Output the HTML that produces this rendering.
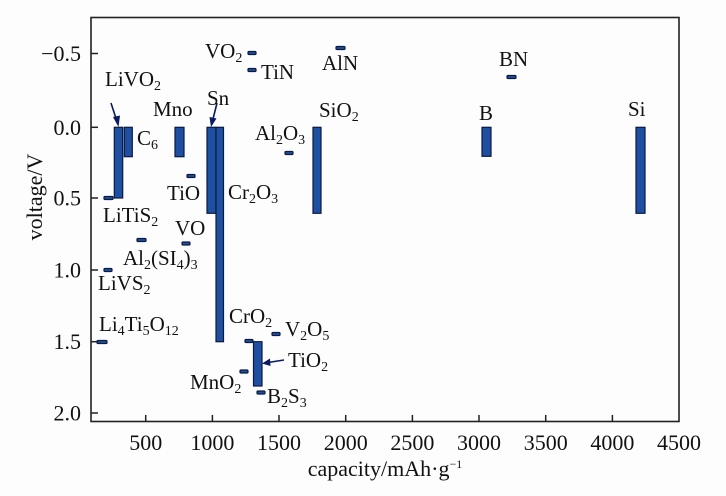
<!DOCTYPE html>
<html><head><meta charset="utf-8"><style>
html,body{margin:0;padding:0;background:#fdfdfd;}
svg{display:block;}
text{font-family:"Liberation Serif","Times New Roman",serif;fill:#111;}
.t{font-size:22px;}
.l{font-size:21px;}
.b{fill:#1f4fa0;stroke:#0a1a40;stroke-width:1.2;}
</style></head><body>
<svg width="726" height="496" viewBox="0 0 726 496" xmlns="http://www.w3.org/2000/svg" font-family="Liberation Serif, serif">
<rect width="726" height="496" fill="#fdfdfd"/>
<rect x="91" y="17.5" width="588" height="404" fill="none" stroke="#222" stroke-width="1.6"/>
<g stroke="#222" stroke-width="1.5">
<line x1="145.7" y1="421" x2="145.7" y2="415"/>
<line x1="212.4" y1="421" x2="212.4" y2="415"/>
<line x1="279" y1="421" x2="279" y2="415"/>
<line x1="345.7" y1="421" x2="345.7" y2="415"/>
<line x1="412.4" y1="421" x2="412.4" y2="415"/>
<line x1="479" y1="421" x2="479" y2="415"/>
<line x1="545.7" y1="421" x2="545.7" y2="415"/>
<line x1="612.4" y1="421" x2="612.4" y2="415"/>
<line x1="91" y1="53.5" x2="98" y2="53.5"/>
<line x1="91" y1="127.3" x2="98" y2="127.3"/>
<line x1="91" y1="198" x2="98" y2="198"/>
<line x1="91" y1="270" x2="98" y2="270"/>
<line x1="91" y1="341.7" x2="98" y2="341.7"/>
<line x1="91" y1="413" x2="98" y2="413"/>
</g>
<g class="t" text-anchor="middle">
<text x="145.7" y="450">500</text>
<text x="212.4" y="450">1000</text>
<text x="279" y="450">1500</text>
<text x="345.7" y="450">2000</text>
<text x="412.4" y="450">2500</text>
<text x="479" y="450">3000</text>
<text x="545.7" y="450">3500</text>
<text x="612.4" y="450">4000</text>
<text x="679" y="450">4500</text>
</g>
<g class="t" text-anchor="end">
<text x="81" y="61">−0.5</text>
<text x="81" y="135">0.0</text>
<text x="81" y="205.5">0.5</text>
<text x="81" y="277.5">1.0</text>
<text x="81" y="349">1.5</text>
<text x="81" y="420.5">2.0</text>
</g>
<text class="t" x="385" y="476" text-anchor="middle">capacity/mAh·g<tspan dy="-8" font-size="12">−1</tspan></text>
<text class="t" transform="translate(42,197) rotate(-90)" text-anchor="middle">voltage/V</text>

<g class="b">
<rect x="114.3" y="127.3" width="8.4" height="70.7"/>
<rect x="124.3" y="127.3" width="8" height="29.4"/>
<rect x="175" y="127.3" width="9" height="29.4"/>
<rect x="207" y="127.3" width="9" height="86"/>
<rect x="216" y="127.3" width="7.5" height="214.4"/>
<rect x="313" y="127.3" width="8" height="86"/>
<rect x="482" y="127.3" width="9" height="29"/>
<rect x="636" y="127.3" width="9" height="86"/>
<rect x="253.5" y="341.7" width="8.5" height="44.3"/>
<rect x="104" y="196.5" width="9" height="3" rx="1"/>
<rect x="187" y="174.5" width="8" height="3" rx="1"/>
<rect x="248" y="51.5" width="8" height="3" rx="1"/>
<rect x="248" y="68.5" width="8" height="3" rx="1"/>
<rect x="336" y="46.5" width="9" height="3" rx="1"/>
<rect x="285" y="151.5" width="8" height="3" rx="1"/>
<rect x="137" y="238.5" width="9" height="3" rx="1"/>
<rect x="182" y="242" width="8" height="3" rx="1"/>
<rect x="104" y="268.5" width="8" height="3" rx="1"/>
<rect x="97" y="340.5" width="10" height="3" rx="1"/>
<rect x="245" y="339.5" width="8" height="3" rx="1"/>
<rect x="272" y="332.5" width="8" height="3" rx="1"/>
<rect x="240" y="370" width="8" height="3" rx="1"/>
<rect x="257" y="391" width="8" height="3" rx="1"/>
<rect x="507" y="75.5" width="9" height="3" rx="1"/>
</g>
<g stroke="#0a1a60" stroke-width="1.6" fill="#0a1a60">
<line x1="111" y1="103" x2="116.5" y2="120"/>
<polygon points="118.5,127 113,117 120,115.5" stroke="none"/>
<line x1="217" y1="103" x2="213" y2="119"/>
<polygon points="211,127 209.5,117 216.5,118.5" stroke="none"/>
<line x1="284" y1="360" x2="268" y2="362.5"/>
<polygon points="262,363.5 270,358.5 270.5,366" stroke="none"/>
</g>
<g class="l">
<text x="205" y="58">VO<tspan font-size="14" dy="4">2</tspan></text>
<text x="261" y="79">TiN</text>
<text x="322" y="70">AlN</text>
<text x="105" y="86">LiVO<tspan font-size="14" dy="4">2</tspan></text>
<text x="153" y="116">Mno</text>
<text x="207" y="105">Sn</text>
<text x="137" y="145">C<tspan font-size="14" dy="4">6</tspan></text>
<text x="255" y="140">Al<tspan font-size="14" dy="4">2</tspan><tspan dy="-4">O</tspan><tspan font-size="14" dy="4">3</tspan></text>
<text x="319" y="117">SiO<tspan font-size="14" dy="4">2</tspan></text>
<text x="499" y="66">BN</text>
<text x="479" y="120">B</text>
<text x="628" y="116">Si</text>
<text x="167" y="200">TiO</text>
<text x="228" y="199">Cr<tspan font-size="14" dy="4">2</tspan><tspan dy="-4">O</tspan><tspan font-size="14" dy="4">3</tspan></text>
<text x="103" y="222">LiTiS<tspan font-size="14" dy="4">2</tspan></text>
<text x="175" y="235">VO</text>
<text x="123" y="265">Al<tspan font-size="14" dy="4">2</tspan><tspan dy="-4">(SI</tspan><tspan font-size="14" dy="4">4</tspan><tspan dy="-4">)</tspan><tspan font-size="14" dy="4">3</tspan></text>
<text x="98" y="290">LiVS<tspan font-size="14" dy="4">2</tspan></text>
<text x="99" y="331">Li<tspan font-size="14" dy="4">4</tspan><tspan dy="-4">Ti</tspan><tspan font-size="14" dy="4">5</tspan><tspan dy="-4">O</tspan><tspan font-size="14" dy="4">12</tspan></text>
<text x="229" y="323">CrO<tspan font-size="14" dy="4">2</tspan></text>
<text x="285" y="336">V<tspan font-size="14" dy="4">2</tspan><tspan dy="-4">O</tspan><tspan font-size="14" dy="4">5</tspan></text>
<text x="288" y="367">TiO<tspan font-size="14" dy="4">2</tspan></text>
<text x="190" y="389">MnO<tspan font-size="14" dy="4">2</tspan></text>
<text x="267" y="403">B<tspan font-size="14" dy="4">2</tspan><tspan dy="-4">S</tspan><tspan font-size="14" dy="4">3</tspan></text>
</g>
</svg>
</body></html>
